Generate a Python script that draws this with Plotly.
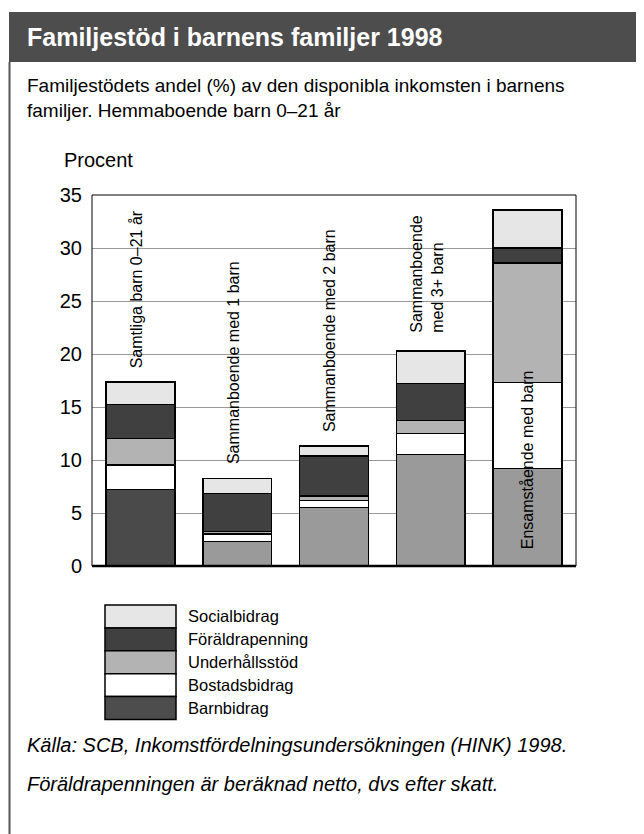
import plotly.graph_objects as go

# data (% of disposable income)
categories = ["Samtliga barn 0–21 år", "Sammanboende med 1 barn",
              "Sammanboende med 2 barn", "Sammanboende<br>med 3+ barn",
              "Ensamstående med barn"]
barnbidrag = [7.2, 2.3, 5.5, 10.5, 9.2]
bostadsbidrag = [2.35, 0.7, 0.7, 2.0, 8.1]
underhallsstod = [2.5, 0.25, 0.4, 1.25, 11.3]
foraldrapenning = [3.2, 3.6, 3.8, 3.45, 1.4]
socialbidrag = [2.1, 1.4, 0.9, 3.1, 3.6]
y_ticks = [0, 5, 10, 15, 20, 25, 30, 35]

# the page body has an 8px margin, so the figure is 8px smaller
OFF = 8
W, H = 644 - OFF, 834 - OFF
L, R, T, B = 92 - OFF, 68, 195 - OFF, 268
PW, PH = W - L - R, H - T - B

FONT = "Liberation Sans, Arial, sans-serif"


def px(x):
    # reference page x -> paper coords
    return (x - 92) / PW


def py(y):
    # reference page y -> paper coords
    return (566 - y) / PH


series = [
    ("Barnbidrag", barnbidrag, ["#4a4a4a"] + ["#9a9a9a"] * 4, "#4d4d4d"),
    ("Bostadsbidrag", bostadsbidrag, "#ffffff", "#ffffff"),
    ("Underhållsstöd", underhallsstod, "#b3b3b3", "#b3b3b3"),
    ("Föräldrapenning", foraldrapenning, "#404040", "#404040"),
    ("Socialbidrag", socialbidrag, "#e6e6e6", "#e6e6e6"),
]

fig = go.Figure()
for name, vals, color, _ in series:
    fig.add_trace(go.Bar(
        x=list(range(len(categories))), y=vals, name=name,
        marker=dict(color=color, line=dict(color="#000000", width=1.5)),
        showlegend=False,
    ))

annotations = []

# category labels, written vertically over the bars
label_base = [18.5, 9.4, 12.4, 21.8, 1.4]
label_shift = [-4, -3, -5, -4, 0]
for i, (cat, yb, sh) in enumerate(zip(categories, label_base, label_shift)):
    annotations.append(dict(x=i, y=yb, xref="x", yref="y", text=cat, textangle=-90,
                            showarrow=False, xanchor="center", yanchor="bottom",
                            align="left", xshift=sh,
                            font=dict(family=FONT, size=16, color="#000000")))

shapes = [
    # header band
    dict(type="rect", xref="paper", yref="paper", x0=px(9), x1=px(650),
         y0=py(62), y1=py(12), fillcolor="#4d4d4d", line=dict(width=0), layer="below"),
    # left frame line
    dict(type="line", xref="paper", yref="paper", x0=px(9.5), x1=px(9.5),
         y0=py(62), y1=py(840), line=dict(color="#555555", width=2)),
    # plot frame
    dict(type="rect", xref="paper", yref="paper", x0=0, x1=1, y0=0, y1=1,
         line=dict(color="#000000", width=1)),
    dict(type="line", xref="paper", yref="paper", x0=0, x1=1, y0=0, y1=0,
         line=dict(color="#000000", width=2.5)),
]

texts = [
    (25, 37, "<b>Familjestöd i barnens familjer 1998</b>", 25, "#ffffff"),
    (25, 98, "Familjestödets andel (%) av den disponibla inkomsten i barnens<br>"
             "familjer. Hemmaboende barn 0–21 år", 19, "#000000"),
    (62, 160, "Procent", 20, "#000000"),
    (25, 745, "<i>Källa: SCB, Inkomstfördelningsundersökningen (HINK) 1998.</i>", 20, "#000000"),
    (25, 784, "<i>Föräldrapenningen är beräknad netto, dvs efter skatt.</i>", 20, "#000000"),
]
for x, y, t, s, c in texts:
    annotations.append(dict(x=px(x), y=py(y), text=t, xref="paper", yref="paper",
                            xanchor="left", yanchor="middle", showarrow=False,
                            align="left", font=dict(family=FONT, size=s, color=c)))

# legend drawn as large swatches like the original
row_h = 22.9
for i, (name, _, _, lcolor) in enumerate(reversed(series)):
    top = 605 + i * row_h
    shapes.append(dict(type="rect", xref="paper", yref="paper",
                       x0=px(105), x1=px(176), y0=py(top + row_h), y1=py(top),
                       fillcolor=lcolor, line=dict(color="#000000", width=1.5)))
    annotations.append(dict(x=px(186), y=py(top + row_h / 2), text=name,
                            xref="paper", yref="paper", xanchor="left",
                            yanchor="middle", showarrow=False,
                            font=dict(family=FONT, size=16.5, color="#000000")))

fig.update_layout(
    width=W, height=H,
    margin=dict(l=L, r=R, t=T, b=B, pad=0),
    paper_bgcolor="#ffffff", plot_bgcolor="#ffffff",
    barmode="stack", bargap=0.29,
    shapes=shapes, annotations=annotations,
    xaxis=dict(range=[-0.5, 4.5], showticklabels=False, showgrid=False,
               zeroline=False, ticks=""),
    yaxis=dict(range=[0, 35], tickvals=y_ticks, showgrid=True,
               gridcolor="#999999", gridwidth=1, zeroline=False, ticks="",
               ticklabelstandoff=9,
               tickfont=dict(family=FONT, size=20, color="#000000")),
    showlegend=False,
)

fig.write_html("out.html")
